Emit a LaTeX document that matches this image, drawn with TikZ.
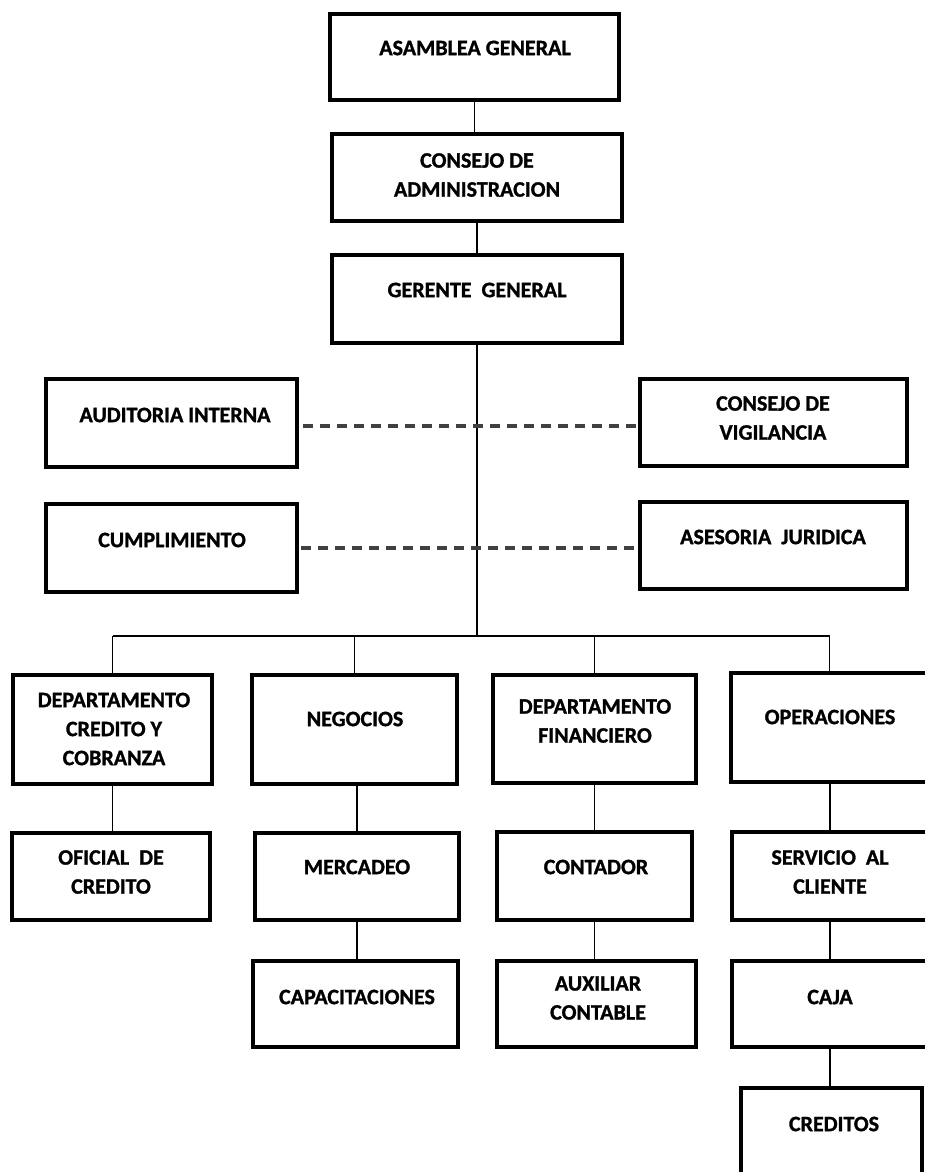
\documentclass[tikz,border=0pt]{standalone}
\usepackage{fontspec}
\setmainfont{Carlito}[BoldFeatures={FakeBold=1.2}]
\begin{document}
\begin{tikzpicture}[x=1pt,y=-1pt,
  box/.style={draw, line width=3.6pt, anchor=north west, inner sep=0pt, outer sep=0pt},
  lbl/.style={font=\fontsize{22}{29}\selectfont\bfseries, align=center, inner sep=0pt},
  link/.style={line width=1.6pt},
  dashlink/.style={line width=3.2pt, draw=black!75, dash pattern=on 10pt off 7pt}]
\useasboundingbox (0,0) rectangle (925,1172);
% top chain
\node[box, minimum width=289pt, minimum height=86pt] (asam) at (330,14) {};
\node[lbl] (asam-t) at (475,48) {ASAMBLEA GENERAL};
\node[box, minimum width=290pt, minimum height=87pt] (cadm) at (332,134) {};
\node[lbl] (cadm-t) at (477,175) {CONSEJO DE\\ADMINISTRACION};
\node[box, minimum width=290pt, minimum height=88pt] (ger) at (332,255) {};
\node[lbl] (ger-t) at (477,290) {GERENTE~~GENERAL};
% staff boxes
\node[box, minimum width=251pt, minimum height=88pt] (aud) at (46,379) {};
\node[lbl] (aud-t) at (175,415) {AUDITORIA INTERNA};
\node[box, minimum width=267pt, minimum height=87pt] (cvig) at (640,379) {};
\node[lbl] (cvig-t) at (773,418) {CONSEJO DE\\VIGILANCIA};
\node[box, minimum width=251pt, minimum height=88pt] (cump) at (46,504) {};
\node[lbl] (cump-t) at (172,540) {CUMPLIMIENTO};
\node[box, minimum width=267pt, minimum height=87pt] (ases) at (640,502) {};
\node[lbl] (ases-t) at (773,537) {ASESORIA~~JURIDICA};
% departments
\node[box, minimum width=199pt, minimum height=109pt] (dcc) at (13,675) {};
\node[lbl] (dcc-t) at (114,729) {DEPARTAMENTO\\CREDITO Y\\COBRANZA};
\node[box, minimum width=205pt, minimum height=109pt] (neg) at (252,675) {};
\node[lbl] (neg-t) at (355,719) {NEGOCIOS};
\node[box, minimum width=203pt, minimum height=108pt] (dfin) at (493,675) {};
\node[lbl] (dfin-t) at (595,721) {DEPARTAMENTO\\FINANCIERO};
\node[box, minimum width=197pt, minimum height=109pt] (oper) at (731,673) {};
\node[lbl] (oper-t) at (830,717) {OPERACIONES};
% second level
\node[box, minimum width=198pt, minimum height=87pt] (ofic) at (12,833) {};
\node[lbl] (ofic-t) at (111,872) {OFICIAL~~DE\\CREDITO};
\node[box, minimum width=204pt, minimum height=87pt] (merc) at (255,833) {};
\node[lbl] (merc-t) at (357,867) {MERCADEO};
\node[box, minimum width=195pt, minimum height=88pt] (cont) at (497,832) {};
\node[lbl] (cont-t) at (596,867) {CONTADOR};
\node[box, minimum width=196pt, minimum height=88pt] (serv) at (732,832) {};
\node[lbl] (serv-t) at (830,872) {SERVICIO~~AL\\CLIENTE};
% third level
\node[box, minimum width=205pt, minimum height=86pt] (capa) at (253,961) {};
\node[lbl] (capa-t) at (357,997) {CAPACITACIONES};
\node[box, minimum width=199pt, minimum height=86pt] (aux) at (497,961) {};
\node[lbl] (aux-t) at (598,998) {AUXILIAR\\CONTABLE};
\node[box, minimum width=196pt, minimum height=86pt] (caja) at (732,961) {};
\node[lbl] (caja-t) at (830,997) {CAJA};
\node[box, minimum width=181pt, minimum height=100pt] (cred) at (741,1088) {};
\node[lbl] (cred-t) at (834,1124) {CREDITOS};
% connectors
\coordinate (bus) at (477,636);
\draw[link] (asam.south) -- (asam.south |- cadm.north);
\draw[link] (cadm.south) -- (cadm.south |- ger.north);
\draw[link] (ger.south) -- (ger.south |- bus);
\draw[link] (dcc.north |- bus) -- (oper.north |- bus);
\draw[link] (dcc.north |- bus) -- (dcc.north);
\draw[link] (neg.north |- bus) -- (neg.north);
\draw[link] (dfin.north |- bus) -- (dfin.north);
\draw[link] (oper.north |- bus) -- (oper.north);
\draw[link] (dcc.south) -- (dcc.south |- ofic.north);
\draw[link] (merc.north |- neg.south) -- (merc.north);
\draw[link] (merc.south) -- (merc.south |- capa.north);
\draw[link] (dfin.south) -- (dfin.south |- cont.north);
\draw[link] (cont.south) -- (cont.south |- aux.north);
\draw[link] (serv.north |- oper.south) -- (serv.north);
\draw[link] (serv.south) -- (serv.south |- caja.north);
\draw[link] (caja.south) -- (caja.south |- cred.north);
% dashed staff links
\draw[dashlink] ([xshift=6pt,yshift=-3pt]aud.east) -- ([yshift=-3pt]aud.east -| cvig.west);
\draw[dashlink] ([xshift=4pt]cump.east) -- (cump.east -| ases.west);
\end{tikzpicture}
\end{document}
